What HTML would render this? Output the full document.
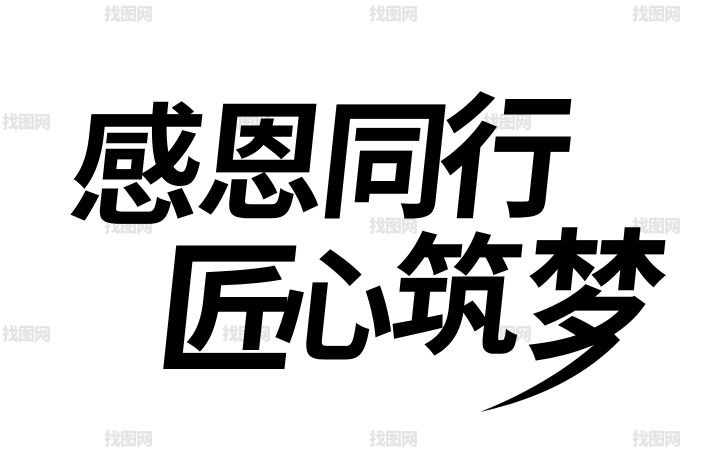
<!DOCTYPE html>
<html><head><meta charset="utf-8"><style>
html,body{margin:0;padding:0;background:#fff;}
body{width:705px;height:470px;position:relative;overflow:hidden;font-family:"Liberation Sans","Noto Sans CJK SC",sans-serif;}
.w{position:absolute;color:#e4e4e4;font-size:17px;font-weight:900;letter-spacing:-1px;}
.c{position:absolute;font-weight:700;color:#000;font-size:128px;line-height:1;transform:skewX(-6deg);font-family:"Noto Sans CJK SC","WenQuanYi Zen Hei",sans-serif;}
</style></head><body>
<div class="w" style="left:104px;top:0">找图网</div>
<div class="w" style="left:369px;top:0">找图网</div>
<div class="w" style="left:632px;top:0">找图网</div>
<div class="w" style="left:2px;top:108px">找图网</div>
<div class="w" style="left:222px;top:108px">找图网</div>
<div class="w" style="left:483px;top:108px">找图网</div>
<div class="w" style="left:104px;top:212px">找图网</div>
<div class="w" style="left:369px;top:212px">找图网</div>
<div class="w" style="left:632px;top:212px">找图网</div>
<div class="w" style="left:2px;top:320px">找图网</div>
<div class="w" style="left:222px;top:320px">找图网</div>
<div class="w" style="left:483px;top:320px">找图网</div>
<div class="w" style="left:104px;top:425px">找图网</div>
<div class="w" style="left:369px;top:425px">找图网</div>
<div class="w" style="left:632px;top:425px">找图网</div>
<div class="c" style="left:72px;top:92px;font-size:132px">感</div>
<div class="c" style="left:200px;top:90px;font-size:128px">恩</div>
<div class="c" style="left:322px;top:88px;font-size:128px">同</div>
<div class="c" style="left:440px;top:80px;font-size:135px">行</div>
<div class="c" style="left:160px;top:230px;font-size:140px">匠</div>
<div class="c" style="left:275px;top:238px;font-size:122px">心</div>
<div class="c" style="left:392px;top:222px;font-size:132px">筑</div>
<div class="c" style="left:525px;top:215px;font-size:142px">梦</div>
<svg style="position:absolute;left:0;top:0" width="705" height="470"><path d="M480 412 Q560 380 610 330 L620 340 Q570 392 480 412Z" fill="#000"/></svg>
</body></html>
